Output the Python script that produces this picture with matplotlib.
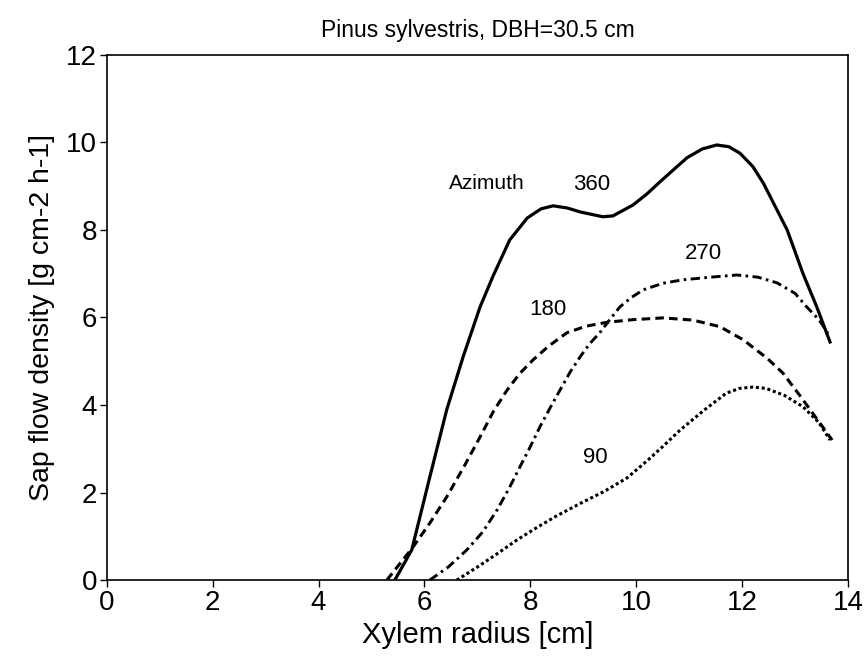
import matplotlib.pyplot as plt

plt.rcParams['font.family'] = ['Liberation Sans', 'DejaVu Sans']

# Azimuth 360 (solid)
x360 = [5.44, 5.76, 6.1, 6.42, 6.73, 7.05, 7.29, 7.61, 7.94, 8.2, 8.43, 8.7,
        8.94, 9.37, 9.56, 9.94, 10.2, 10.45, 10.96, 11.25, 11.52, 11.75,
        11.96, 12.2, 12.4, 12.85, 13.15, 13.41, 13.66]
y360 = [0.0, 0.69, 2.35, 3.89, 5.1, 6.24, 6.93, 7.77, 8.27, 8.48, 8.55, 8.5,
        8.41, 8.3, 8.32, 8.57, 8.82, 9.1, 9.65, 9.85, 9.94, 9.9,
        9.75, 9.45, 9.07, 8.0, 7.0, 6.24, 5.44]

# Azimuth 180 (dashed)
x180 = [5.29, 5.78, 6.1, 6.42, 6.75, 7.05, 7.3, 7.56, 7.8, 8.05, 8.35, 8.69,
        9.05, 9.45, 9.94, 10.5, 11.07, 11.58, 12.02, 12.47, 12.77, 13.1,
        13.4, 13.7]
y180 = [0.0, 0.75, 1.3, 1.9, 2.6, 3.27, 3.85, 4.34, 4.72, 5.03, 5.35, 5.65,
        5.8, 5.89, 5.95, 5.99, 5.94, 5.79, 5.49, 5.07, 4.73, 4.2,
        3.7, 3.2]

# Azimuth 270 (dash-dot)
x270 = [6.1, 6.45, 6.8, 7.1, 7.37, 7.6, 7.8, 8.0, 8.18, 8.38, 8.56, 8.75,
        8.94, 9.12, 9.31, 9.5, 9.69, 9.9, 10.13, 10.5, 10.88, 11.4, 11.9,
        12.3, 12.66, 13.0, 13.22, 13.45, 13.62]
y270 = [0.0, 0.3, 0.69, 1.1, 1.6, 2.1, 2.58, 3.05, 3.5, 3.95, 4.34, 4.75,
        5.1, 5.4, 5.65, 5.95, 6.24, 6.45, 6.63, 6.78, 6.86, 6.92, 6.97,
        6.92, 6.79, 6.55, 6.24, 5.95, 5.64]

# Azimuth 90 (dotted)
x90 = [6.61, 7.0, 7.37, 7.75, 8.12, 8.5, 8.94, 9.4, 9.82, 10.2, 10.5, 10.83,
       11.3, 11.7, 11.95, 12.2, 12.45, 12.8, 13.15, 13.45, 13.66]
y90 = [0.0, 0.3, 0.6, 0.92, 1.2, 1.47, 1.75, 2.03, 2.33, 2.72, 3.05, 3.43,
       3.9, 4.27, 4.38, 4.41, 4.38, 4.22, 3.96, 3.6, 3.2]

fig = plt.figure(figsize=(8.68, 6.6), dpi=100)
ax = fig.add_axes([0.123, 0.121, 0.854, 0.796])

ax.plot(x360, y360, color='black', lw=2.3, ls='-')
ax.plot(x180, y180, color='black', lw=2.2, ls=(0, (2.8, 1.7)))
ax.plot(x270, y270, color='black', lw=2.1, ls=(0, (3.2, 1.5, 0.9, 1.5)))
ax.plot(x90, y90, color='black', lw=2.2, ls=(0, (1.0, 0.9)))

ax.text(7.18, 9.07, 'Azimuth', fontsize=15, ha='center', va='center')
ax.text(9.16, 9.03, '360', fontsize=16, ha='center', va='center')
ax.text(11.26, 7.45, '270', fontsize=16, ha='center', va='center')
ax.text(8.33, 6.19, '180', fontsize=16, ha='center', va='center')
ax.text(9.22, 2.79, '90', fontsize=16, ha='center', va='center')

ax.set_xlim(0, 14)
ax.set_ylim(0, 12)
ax.set_xticks(range(0, 15, 2))
ax.set_yticks(range(0, 13, 2))
ax.tick_params(direction='out', length=5, width=1, labelsize=20, pad=2)
for s in ax.spines.values():
    s.set_linewidth(1.2)

ax.set_xlabel('Xylem radius [cm]', fontsize=21, labelpad=4)
ax.set_ylabel('Sap flow density [g cm-2 h-1]', fontsize=20.5, labelpad=8)
ax.set_title('Pinus sylvestris, DBH=30.5 cm', fontsize=16.5, pad=13)

fig.savefig('out.png', dpi=100)
